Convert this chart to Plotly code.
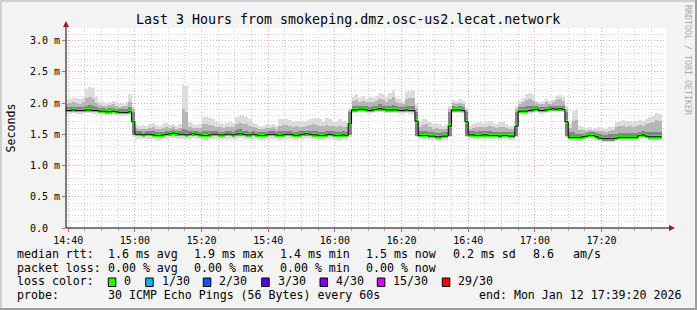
import pandas as pd
import plotly.graph_objects as go

# ---------------- data (milliseconds, one value per minute from 14:39) ----------------
START = "2026-01-12 14:39"
X_RANGE = ["2026-01-12 14:39:20", "2026-01-12 17:39:20"]

median_ms = [
    1.88, 1.88, 1.89, 1.88, 1.88, 1.88, 1.89, 1.89, 1.88, 1.88, 1.87, 1.87, 1.86, 1.86, 1.87, 1.86, 1.85, 1.85, 1.85, 1.86,
    1.70,
    1.50, 1.50, 1.49, 1.50, 1.50, 1.49, 1.48, 1.48, 1.49,
    1.50, 1.51, 1.52, 1.51, 1.50, 1.50, 1.49, 1.50, 1.51, 1.50,
    1.49, 1.48, 1.48, 1.49, 1.50, 1.50, 1.49, 1.49, 1.50, 1.50,
    1.49, 1.50, 1.51, 1.50, 1.49, 1.49, 1.50, 1.49, 1.48, 1.48,
    1.49, 1.50, 1.50, 1.49, 1.48, 1.49, 1.50, 1.50, 1.49, 1.48,
    1.49, 1.50, 1.51, 1.50, 1.49, 1.49, 1.48, 1.48, 1.49, 1.50,
    1.49, 1.48, 1.48, 1.49, 1.48,
    1.67,
    1.89, 1.89, 1.90, 1.90, 1.89, 1.88, 1.89, 1.90, 1.91, 1.90, 1.89, 1.89, 1.89, 1.89, 1.88, 1.88, 1.89, 1.88, 1.88,
    1.71,
    1.48, 1.48, 1.48, 1.47, 1.47, 1.46, 1.46, 1.47, 1.47,
    1.63,
    1.89, 1.89, 1.89, 1.88,
    1.70,
    1.49, 1.49, 1.48, 1.48, 1.49, 1.49, 1.48, 1.48, 1.48, 1.47, 1.48, 1.48, 1.47, 1.47,
    1.63,
    1.87, 1.87, 1.87, 1.88, 1.89, 1.90, 1.88, 1.88, 1.89, 1.90, 1.91, 1.90, 1.91, 1.90,
    1.70,
    1.45, 1.45, 1.45, 1.45, 1.46, 1.47, 1.48, 1.48, 1.46,
    1.44, 1.43, 1.43, 1.43, 1.43, 1.44, 1.45, 1.45, 1.45, 1.45,
    1.45, 1.45, 1.48, 1.49, 1.47, 1.46, 1.46, 1.46, 1.46,
]

smoke_max = [
    2.07, 2.07, 2.08, 2.08, 2.06, 2.08, 2.22, 2.26, 2.24, 2.10, 2.02, 2.01, 2.00, 2.02, 2.04, 2.01, 1.99, 2.00, 2.02, 2.15,
    1.95,
    1.66, 1.64, 1.65, 1.63, 1.66, 1.68, 1.65, 1.64, 1.66,
    1.68, 1.65, 1.66, 1.64, 1.66, 2.29, 2.27, 1.70, 1.66, 1.65,
    1.66, 1.77, 1.78, 1.76, 1.74, 1.70, 1.68, 1.67, 1.68, 1.69,
    1.68, 1.78, 1.79, 1.79, 1.78, 1.74, 1.68, 1.66, 1.64, 1.63,
    1.66, 1.65, 1.67, 1.64, 1.74, 1.75, 1.75, 1.73, 1.70, 1.72,
    1.71, 1.70, 1.72, 1.75, 1.76, 1.76, 1.74, 1.72, 1.76, 1.74,
    1.72, 1.70, 1.74, 1.71, 1.69,
    1.92,
    2.10, 2.14, 2.08, 2.12, 2.06, 2.10, 2.08, 2.12, 2.16, 2.14, 2.10, 2.16, 2.21, 2.08, 2.06, 2.04, 2.18, 2.20, 2.21,
    1.98,
    1.70, 1.74, 1.75, 1.70, 1.66, 1.68, 1.66, 1.64, 1.66,
    1.95,
    2.05, 2.03, 2.06, 2.04,
    1.92,
    1.64, 1.66, 1.68, 1.70, 1.68, 1.70, 1.71, 1.68, 1.66, 1.70, 1.69, 1.67, 1.64, 1.63,
    1.95,
    2.04, 2.08, 2.14, 2.16, 2.13, 2.04, 2.02, 2.04, 2.06, 2.03, 2.05, 2.12, 2.13, 2.10,
    1.96,
    1.68, 1.88, 1.89, 1.64, 1.62, 1.60, 1.61, 1.59, 1.60,
    1.62, 1.60, 1.58, 1.61, 1.62, 1.70, 1.72, 1.73, 1.71, 1.72,
    1.70, 1.72, 1.73, 1.71, 1.74, 1.78, 1.80, 1.84, 1.83,
]

smoke_q90 = [
    1.99, 2.00, 2.01, 2.00, 1.99, 2.01, 2.08, 2.10, 2.06, 2.00, 1.97, 1.96, 1.95, 1.97, 1.98, 1.96, 1.94, 1.95, 1.96, 2.02,
    1.90,
    1.60, 1.59, 1.59, 1.58, 1.60, 1.61, 1.59, 1.58, 1.60,
    1.61, 1.60, 1.61, 1.59, 1.60, 1.90, 1.85, 1.62, 1.60, 1.60,
    1.60, 1.66, 1.67, 1.65, 1.64, 1.62, 1.61, 1.60, 1.61, 1.62,
    1.61, 1.66, 1.68, 1.67, 1.66, 1.63, 1.61, 1.60, 1.59, 1.58,
    1.60, 1.60, 1.61, 1.59, 1.64, 1.65, 1.65, 1.63, 1.62, 1.63,
    1.62, 1.62, 1.64, 1.65, 1.66, 1.65, 1.64, 1.63, 1.65, 1.64,
    1.63, 1.62, 1.64, 1.62, 1.61,
    1.89,
    2.03, 2.05, 2.02, 2.04, 2.01, 2.02, 2.01, 2.04, 2.07, 2.05, 2.02, 2.06, 2.10, 2.02, 2.00, 1.99, 2.07, 2.08, 2.08,
    1.92,
    1.62, 1.65, 1.66, 1.62, 1.59, 1.60, 1.59, 1.58, 1.59,
    1.90,
    2.00, 1.99, 2.00, 1.99,
    1.89,
    1.59, 1.60, 1.61, 1.62, 1.61, 1.62, 1.63, 1.61, 1.60, 1.62, 1.61, 1.60, 1.59, 1.58,
    1.90,
    1.99, 2.01, 2.05, 2.07, 2.04, 2.00, 1.98, 1.99, 2.01, 1.99, 2.01, 2.05, 2.06, 2.03,
    1.91,
    1.60, 1.72, 1.73, 1.57, 1.57, 1.56, 1.57, 1.56, 1.56,
    1.56, 1.55, 1.54, 1.56, 1.57, 1.61, 1.63, 1.64, 1.62, 1.63,
    1.62, 1.63, 1.65, 1.64, 1.66, 1.68, 1.70, 1.73, 1.72,
]

smoke_q75 = [
    1.93, 1.94, 1.94, 1.93, 1.94, 1.93, 1.96, 1.97, 1.95, 1.93, 1.92, 1.92, 1.91, 1.92, 1.92, 1.91, 1.90, 1.90, 1.91, 1.93,
    1.86,
    1.55, 1.55, 1.54, 1.55, 1.56, 1.55, 1.53, 1.53, 1.54,
    1.56, 1.56, 1.57, 1.56, 1.55, 1.58, 1.57, 1.55, 1.56, 1.55,
    1.54, 1.55, 1.56, 1.55, 1.55, 1.55, 1.54, 1.54, 1.55, 1.55,
    1.54, 1.57, 1.58, 1.56, 1.55, 1.54, 1.55, 1.54, 1.53, 1.53,
    1.54, 1.55, 1.55, 1.54, 1.55, 1.56, 1.56, 1.55, 1.54, 1.54,
    1.55, 1.55, 1.56, 1.56, 1.55, 1.55, 1.54, 1.54, 1.55, 1.56,
    1.55, 1.54, 1.54, 1.55, 1.54,
    1.86,
    1.95, 1.96, 1.96, 1.96, 1.95, 1.94, 1.95, 1.96, 1.98, 1.96, 1.95, 1.96, 1.97, 1.95, 1.94, 1.94, 1.96, 1.96, 1.95,
    1.86,
    1.55, 1.56, 1.56, 1.54, 1.53, 1.52, 1.52, 1.53, 1.53,
    1.86,
    1.95, 1.94, 1.95, 1.94,
    1.86,
    1.55, 1.55, 1.54, 1.55, 1.55, 1.55, 1.55, 1.54, 1.54, 1.54, 1.54, 1.54, 1.53, 1.53,
    1.86,
    1.93, 1.94, 1.95, 1.96, 1.95, 1.95, 1.93, 1.93, 1.94, 1.95, 1.96, 1.96, 1.96, 1.95,
    1.86,
    1.53, 1.53, 1.51, 1.51, 1.51, 1.52, 1.53, 1.53, 1.52,
    1.50, 1.49, 1.49, 1.50, 1.50, 1.51, 1.52, 1.52, 1.52, 1.52,
    1.52, 1.52, 1.54, 1.55, 1.53, 1.53, 1.53, 1.54, 1.54,
]

smoke_q25 = [
    1.85, 1.85, 1.86, 1.85, 1.85, 1.85, 1.86, 1.86, 1.85, 1.85, 1.84, 1.84, 1.83, 1.83, 1.84, 1.83, 1.82, 1.82, 1.82, 1.83,
    1.49,
    1.47, 1.47, 1.46, 1.47, 1.47, 1.46, 1.45, 1.45, 1.46,
    1.47, 1.48, 1.49, 1.48, 1.47, 1.47, 1.46, 1.47, 1.48, 1.47,
    1.46, 1.45, 1.45, 1.46, 1.47, 1.47, 1.46, 1.46, 1.47, 1.47,
    1.46, 1.47, 1.48, 1.47, 1.46, 1.46, 1.47, 1.46, 1.45, 1.45,
    1.46, 1.47, 1.47, 1.46, 1.45, 1.46, 1.47, 1.47, 1.46, 1.45,
    1.46, 1.47, 1.48, 1.47, 1.46, 1.46, 1.45, 1.45, 1.46, 1.47,
    1.46, 1.45, 1.45, 1.46, 1.45,
    1.49,
    1.86, 1.86, 1.87, 1.87, 1.86, 1.85, 1.86, 1.87, 1.88, 1.87, 1.86, 1.86, 1.86, 1.86, 1.85, 1.85, 1.86, 1.85, 1.85,
    1.48,
    1.45, 1.45, 1.45, 1.44, 1.44, 1.43, 1.43, 1.44, 1.44,
    1.48,
    1.86, 1.86, 1.86, 1.85,
    1.48,
    1.46, 1.46, 1.45, 1.45, 1.46, 1.46, 1.45, 1.45, 1.45, 1.44, 1.45, 1.45, 1.44, 1.44,
    1.48,
    1.84, 1.84, 1.84, 1.85, 1.86, 1.87, 1.85, 1.85, 1.86, 1.87, 1.88, 1.87, 1.88, 1.87,
    1.47,
    1.42, 1.42, 1.42, 1.42, 1.43, 1.44, 1.45, 1.45, 1.43,
    1.41, 1.40, 1.40, 1.40, 1.40, 1.41, 1.42, 1.42, 1.42, 1.42,
    1.42, 1.42, 1.45, 1.46, 1.44, 1.43, 1.43, 1.43, 1.43,
]

smoke_min = [
    1.83, 1.83, 1.84, 1.83, 1.83, 1.83, 1.84, 1.84, 1.83, 1.83, 1.82, 1.82, 1.81, 1.81, 1.82, 1.81, 1.80, 1.80, 1.80, 1.81,
    1.46,
    1.43, 1.43, 1.42, 1.43, 1.43, 1.42, 1.41, 1.41, 1.42,
    1.43, 1.44, 1.44, 1.43, 1.43, 1.42, 1.42, 1.43, 1.44, 1.43,
    1.42, 1.41, 1.41, 1.42, 1.43, 1.43, 1.42, 1.42, 1.43, 1.43,
    1.42, 1.43, 1.44, 1.43, 1.42, 1.42, 1.43, 1.42, 1.41, 1.41,
    1.42, 1.43, 1.43, 1.42, 1.41, 1.42, 1.43, 1.43, 1.42, 1.41,
    1.42, 1.43, 1.44, 1.43, 1.42, 1.42, 1.41, 1.41, 1.42, 1.43,
    1.42, 1.41, 1.41, 1.42, 1.41,
    1.46,
    1.84, 1.84, 1.85, 1.85, 1.84, 1.83, 1.84, 1.85, 1.86, 1.85, 1.84, 1.84, 1.84, 1.84, 1.83, 1.83, 1.84, 1.83, 1.83,
    1.46,
    1.42, 1.42, 1.42, 1.41, 1.41, 1.40, 1.40, 1.41, 1.41,
    1.45,
    1.84, 1.84, 1.84, 1.83,
    1.45,
    1.43, 1.43, 1.42, 1.42, 1.43, 1.43, 1.42, 1.42, 1.42, 1.41, 1.42, 1.42, 1.41, 1.41,
    1.45,
    1.82, 1.82, 1.82, 1.83, 1.84, 1.85, 1.83, 1.83, 1.84, 1.85, 1.86, 1.85, 1.86, 1.85,
    1.44,
    1.40, 1.40, 1.40, 1.40, 1.41, 1.42, 1.43, 1.43, 1.41,
    1.39, 1.38, 1.38, 1.38, 1.38, 1.39, 1.40, 1.40, 1.40, 1.40,
    1.40, 1.40, 1.43, 1.44, 1.42, 1.41, 1.41, 1.41, 1.41,
]

y_tick_values = [0.0, 0.5, 1.0, 1.5, 2.0, 2.5, 3.0]
y_tick_labels = ["0.0\u00a0\u00a0", "0.5 m", "1.0 m", "1.5 m", "2.0 m", "2.5 m", "3.0 m"]

title_text = "Last 3 Hours from smokeping.dmz.osc-us2.lecat.network"
stats_rows = [
    [("median rtt:", 16), ("1.6 ms avg", 107), ("1.9 ms max", 193.3), ("1.4 ms min", 279.3),
     ("1.5 ms now", 365), ("0.2 ms sd", 451.7), ("8.6", 531.7), ("am/s", 571.7)],
    [("packet loss:", 16), ("0.00 % avg", 107), ("0.00 % max", 193.3), ("0.00 % min", 279.3),
     ("0.00 % now", 365)],
    [("loss color:", 16)],
    [("probe:", 16), ("30 ICMP Echo Pings (56 Bytes) every 60s", 107),
     ("end: Mon Jan 12 17:39:20 2026", 478.3)],
]
loss_labels = ["0", "1/30", "2/30", "3/30", "4/30", "15/30", "29/30"]
loss_colors = ["#26ff00", "#00b8ff", "#0059ff", "#5e00ff", "#7e00ff", "#dd00ff", "#ff0000"]
loss_box_x = [108.3, 145.7, 203.3, 261.7, 320.0, 377.3, 442.3]
loss_text_x = [123.3, 160.7, 218.3, 276.7, 335.0, 391.7, 456.7]

# ---------------- geometry ----------------
W, H = 697, 310
L, R, T, B = 66, 666, 28, 228
MONO = "DejaVu Sans Mono"


def px(x):
    return (x - L) / (R - L)


def py(y):
    return (B - y) / (B - T)


n = len(median_ms)
t0 = pd.Timestamp(START)
starts = [t0 + pd.Timedelta(minutes=i) for i in range(n)]
centers = [s + pd.Timedelta(seconds=30) for s in starts]

fig = go.Figure()


def band(lo, hi, color):
    fig.add_trace(go.Bar(
        x=centers, y=[h - l for l, h in zip(lo, hi)], base=lo, width=60000,
        marker=dict(color=color, line=dict(width=0)), hoverinfo="skip", showlegend=False))


band(smoke_min, smoke_max, "#dcdcdc")
band(smoke_q25, smoke_q90, "#b6b6b6")
band(smoke_q25, smoke_q75, "#848484")

fig.add_trace(go.Scatter(
    x=starts + [starts[-1] + pd.Timedelta(minutes=1)], y=median_ms + [median_ms[-1]],
    mode="lines", line=dict(color="#000000", width=1, shape="hv"),
    hoverinfo="skip", showlegend=False))

GREEN_T = 0.056
fig.add_trace(go.Bar(
    x=centers, y=[GREEN_T] * n, base=[m - GREEN_T / 2 for m in median_ms], width=60000,
    marker=dict(color="#26ff00", line=dict(width=0)), hoverinfo="skip", showlegend=False))

MAJOR = "#f2a6a6"
MINOR = "#cfcfcf"

fig.update_layout(
    width=W, height=H,
    margin=dict(l=L, r=W - R, t=T, b=H - B, pad=0),
    paper_bgcolor="#f3f3f3", plot_bgcolor="#ffffff",
    barmode="overlay", bargap=0, showlegend=False,
    font=dict(family=MONO, color="#000000"),
    xaxis=dict(
        type="date", range=X_RANGE, tickmode="linear", tick0="2026-01-12 14:40",
        dtick=20 * 60000, tickformat="%H:%M",
        tickfont=dict(family=MONO, size=10, color="#000000"),
        ticks="outside", ticklen=3, tickcolor="#d06060",
        showgrid=True, gridcolor=MAJOR, griddash="1px,2px", gridwidth=1,
        minor=dict(tickmode="linear", tick0="2026-01-12 14:40", dtick=5 * 60000,
                   showgrid=True, gridcolor=MINOR, griddash="1px,2px",
                   ticks="outside", ticklen=2, tickcolor="#c0a0a0"),
        zeroline=False, showline=False, fixedrange=True,
    ),
    yaxis=dict(
        range=[0, 3.2], tickmode="array", tickvals=y_tick_values, ticktext=y_tick_labels,
        tickfont=dict(family=MONO, size=10, color="#000000"),
        ticks="outside", ticklen=3, tickcolor="#d06060",
        showgrid=True, gridcolor=MAJOR, griddash="1px,2px", gridwidth=1,
        minor=dict(tickmode="linear", tick0=0, dtick=0.1, showgrid=True,
                   gridcolor=MINOR, griddash="1px,2px"),
        zeroline=False, showline=False, fixedrange=True,
    ),
)

shapes = []
# frame of the image
shapes.append(dict(type="rect", xref="paper", yref="paper", x0=px(0), x1=px(W), y0=py(0), y1=py(2),
                   fillcolor="#cfcfcf", line=dict(width=0), layer="above"))
shapes.append(dict(type="rect", xref="paper", yref="paper", x0=px(0), x1=px(2), y0=py(0), y1=py(H),
                   fillcolor="#cfcfcf", line=dict(width=0), layer="above"))
shapes.append(dict(type="rect", xref="paper", yref="paper", x0=px(W - 2), x1=px(W), y0=py(0), y1=py(H),
                   fillcolor="#9c9c9c", line=dict(width=0), layer="above"))
shapes.append(dict(type="rect", xref="paper", yref="paper", x0=px(0), x1=px(W), y0=py(H - 2), y1=py(H),
                   fillcolor="#9c9c9c", line=dict(width=0), layer="above"))
# axes with arrows
shapes.append(dict(type="line", xref="paper", yref="paper", x0=px(L), x1=px(669), y0=0, y1=0,
                   line=dict(color="#000000", width=1), layer="above"))
shapes.append(dict(type="line", xref="paper", yref="paper", x0=0, x1=0, y0=0, y1=py(25),
                   line=dict(color="#000000", width=1), layer="above"))
shapes.append(dict(type="path", xref="paper", yref="paper",
                   path=f"M {px(669)} {py(225)} L {px(675)} {py(228)} L {px(669)} {py(231)} Z",
                   fillcolor="#9c1c1c", line=dict(width=0), layer="above"))
shapes.append(dict(type="path", xref="paper", yref="paper",
                   path=f"M {px(63)} {py(27)} L {px(66)} {py(21)} L {px(69)} {py(27)} Z",
                   fillcolor="#9c1c1c", line=dict(width=0), layer="above"))
# loss colour boxes
for bx, col in zip(loss_box_x, loss_colors):
    shapes.append(dict(type="rect", xref="paper", yref="paper", x0=px(bx), x1=px(bx + 7.5),
                       y0=py(286.5), y1=py(278), fillcolor=col,
                       line=dict(color="#000000", width=1), layer="above"))
fig.update_layout(shapes=shapes)

ann = []
ann.append(dict(text=title_text, x=px(348), y=py(19.5), xref="paper", yref="paper",
                xanchor="center", yanchor="middle", showarrow=False, borderpad=0,
                font=dict(family=MONO, size=13.3, color="#000000")))
ann.append(dict(text="Seconds", x=px(10.5), y=py(128), xref="paper", yref="paper",
                xanchor="center", yanchor="middle", showarrow=False, textangle=-90, borderpad=0,
                font=dict(family=MONO, size=11.6, color="#000000")))
ann.append(dict(text="RRDTOOL / TOBI OETIKER", x=px(688), y=py(60), xref="paper", yref="paper",
                xanchor="center", yanchor="middle", showarrow=False, textangle=90, borderpad=0,
                font=dict(family=MONO, size=8.3, color="#a9a9a9")))
row_centers = [253.7, 267.7, 281.4, 295.4]
for row, yc in zip(stats_rows, row_centers):
    for txt, x in row:
        ann.append(dict(text=txt, x=px(x), y=py(yc), xref="paper", yref="paper",
                        xanchor="left", yanchor="middle", showarrow=False, borderpad=0,
                        font=dict(family=MONO, size=11.6, color="#000000")))
for txt, x in zip(loss_labels, loss_text_x):
    ann.append(dict(text=txt, x=px(x), y=py(row_centers[2]), xref="paper", yref="paper",
                    xanchor="left", yanchor="middle", showarrow=False, borderpad=0,
                    font=dict(family=MONO, size=11.6, color="#000000")))
fig.update_layout(annotations=ann)

fig.write_html("out.html", config={"displayModeBar": False})
